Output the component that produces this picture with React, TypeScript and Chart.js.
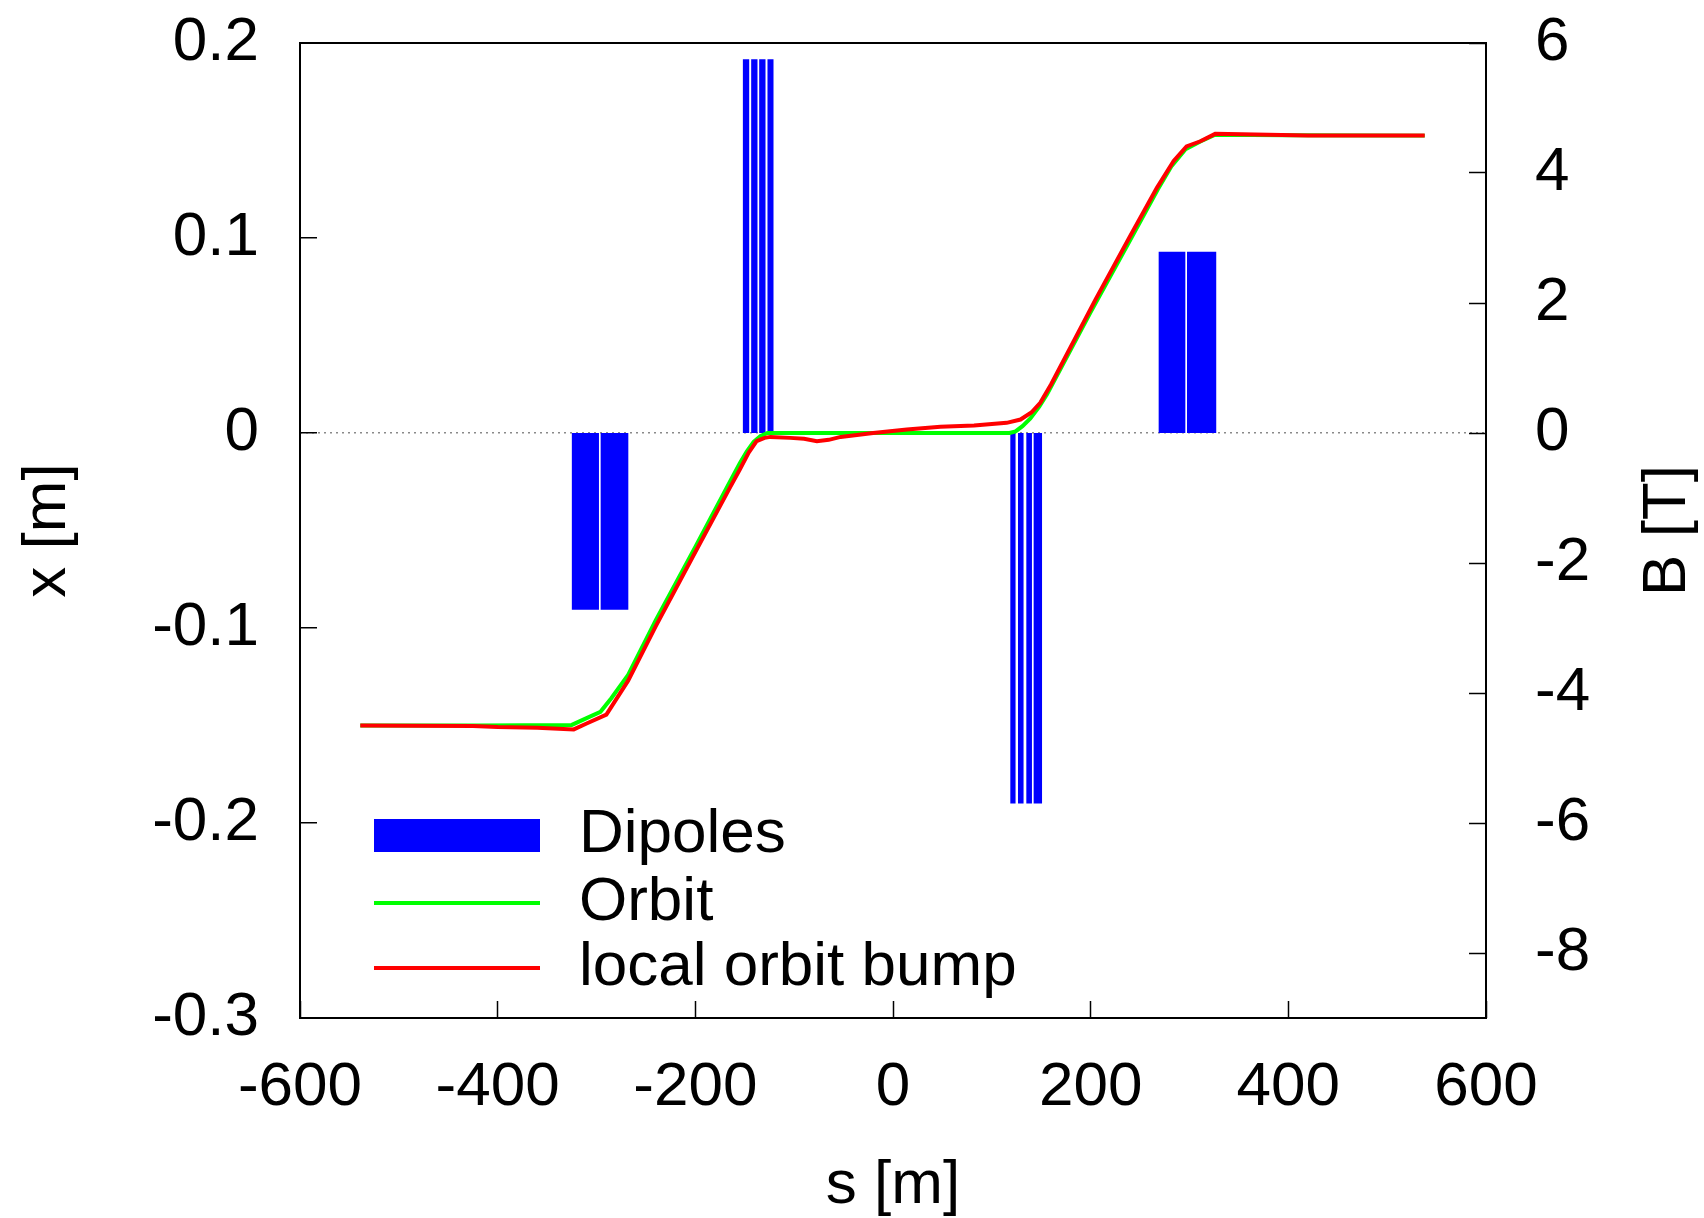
import React, { useEffect, useRef } from "react";
import { Chart, registerables } from "chart.js";

Chart.register(...registerables);

// ---- data ----
// Orbit (green): s [m], x [m]
const orbitS = [-539, -420, -325, -310, -296, -285, -268, -240, -200, -165, -155, -148, -141, -134, -127, -60, 0, 60, 118, 124, 131, 139, 148, 156, 200, 240, 268, 282, 296, 311, 326, 400, 538];
const orbitX = [-0.15, -0.15, -0.1497, -0.1462, -0.143, -0.136, -0.124, -0.096, -0.0585, -0.025, -0.0155, -0.0095, -0.0045, -0.0015, 0.0, 0.0, 0.0, 0.0, 0.0, 0.0008, 0.0035, 0.0075, 0.0135, 0.02, 0.062, 0.099, 0.125, 0.137, 0.1455, 0.1495, 0.153, 0.1527, 0.1525];

// Local orbit bump (red): s [m], x [m]
const bumpS = [-539, -425, -400, -360, -323, -310, -290, -268, -240, -200, -165, -155, -146, -138, -130, -124, -104, -90, -77, -65, -53, -20, 14, 48, 82, 115, 129, 140, 149, 160, 205, 240, 267, 284, 297, 311, 326, 380, 420, 538];
const bumpX = [-0.15, -0.1502, -0.1508, -0.1512, -0.152, -0.149, -0.1444, -0.127, -0.099, -0.061, -0.028, -0.0187, -0.01, -0.0042, -0.0025, -0.002, -0.0025, -0.003, -0.0042, -0.0035, -0.002, 0.0, 0.0018, 0.0032, 0.0038, 0.0052, 0.0069, 0.0105, 0.0155, 0.025, 0.0685, 0.101, 0.1257, 0.1395, 0.147, 0.1496, 0.1534, 0.153, 0.1526, 0.1526];

// Dipoles: start s, end s [m], field B [T]
const dipoleStart = [-325.2, -295.8, -151.9, -143.5, -135.4, -127.0, 118.7, 126.5, 134.9, 142.3, 268.8, 297.5];
const dipoleEnd = [-297.5, -267.8, -145.5, -137.1, -129.0, -120.9, 124.0, 132.1, 140.6, 150.8, 295.8, 327.3];
const dipoleField = [-2.72, -2.72, 5.75, 5.75, 5.75, 5.75, -5.7, -5.7, -5.7, -5.7, 2.79, 2.79];

// Axes
const xTitle = "s [m]";
const yTitle = "x [m]";
const y2Title = "B [T]";
const legendLabels = ["Dipoles", "Orbit", "local orbit bump"];

const FONT = '"Liberation Sans", Arial, Helvetica, sans-serif';
const FS = 62;

export default function App() {
  const ref = useRef<HTMLCanvasElement | null>(null);

  useEffect(() => {
    const canvas = ref.current;
    if (!canvas) return;

    const dipolePath: { x: number; y: number }[] = [];
    for (let i = 0; i < dipoleStart.length; i++) {
      dipolePath.push({ x: dipoleStart[i], y: 0 });
      dipolePath.push({ x: dipoleStart[i], y: dipoleField[i] });
      dipolePath.push({ x: dipoleEnd[i], y: dipoleField[i] });
      dipolePath.push({ x: dipoleEnd[i], y: 0 });
    }
    const orbit = orbitS.map((s, i) => ({ x: s, y: orbitX[i] }));
    const bump = bumpS.map((s, i) => ({ x: s, y: bumpX[i] }));

    const colors = ["#0000ff", "#00ff00", "#ff0000"];

    const framePlugin = {
      id: "frameAndLegend",
      afterDraw(chart: any) {
        const { ctx, chartArea } = chart;
        ctx.save();
        // frame
        ctx.strokeStyle = "#000";
        ctx.lineWidth = 2;
        ctx.strokeRect(chartArea.left, chartArea.top, chartArea.right - chartArea.left, chartArea.bottom - chartArea.top);

        // legend inside plot
        const sx0 = chartArea.left + 74;
        const sx1 = chartArea.left + 240;
        const tx = chartArea.left + 279;
        const rows = [chartArea.bottom - 183, chartArea.bottom - 115, chartArea.bottom - 50];
        ctx.fillStyle = colors[0];
        ctx.fillRect(sx0, rows[0] - 16, sx1 - sx0, 33);
        for (let k = 1; k < 3; k++) {
          ctx.strokeStyle = colors[k];
          ctx.lineWidth = 4;
          ctx.beginPath();
          ctx.moveTo(sx0, rows[k]);
          ctx.lineTo(sx1, rows[k]);
          ctx.stroke();
        }
        ctx.fillStyle = "#000";
        ctx.font = `${FS}px ${FONT}`;
        ctx.textAlign = "left";
        ctx.textBaseline = "middle";
        for (let k = 0; k < 3; k++) {
          ctx.fillText(legendLabels[k], tx, rows[k]);
        }

        // right axis title, reading upward
        ctx.translate(1668, (chartArea.top + chartArea.bottom) / 2);
        ctx.rotate(-Math.PI / 2);
        ctx.textAlign = "center";
        ctx.textBaseline = "middle";
        ctx.fillText(y2Title, 0, 0);
        ctx.restore();
      },
    };

    const tickFont = { family: FONT, size: FS };
    const noPad = (s: any) => {
      s.paddingTop = 0;
      s.paddingBottom = 0;
      s.paddingLeft = 0;
      s.paddingRight = 0;
    };

    const chart = new Chart(canvas, {
      type: "line",
      data: {
        datasets: [
          {
            label: legendLabels[2],
            data: bump,
            yAxisID: "y",
            borderColor: colors[2],
            borderWidth: 4,
            pointRadius: 0,
            tension: 0,
            fill: false,
            order: 0,
          },
          {
            label: legendLabels[1],
            data: orbit,
            yAxisID: "y",
            borderColor: colors[1],
            borderWidth: 4,
            pointRadius: 0,
            tension: 0,
            fill: false,
            order: 1,
          },
          {
            label: legendLabels[0],
            data: dipolePath,
            yAxisID: "yB",
            borderWidth: 0,
            borderColor: "rgba(0,0,0,0)",
            backgroundColor: colors[0],
            pointRadius: 0,
            tension: 0,
            fill: "origin",
            order: 2,
          },
        ],
      },
      options: {
        animation: false,
        responsive: false,
        devicePixelRatio: 1,
        layout: { padding: { top: 43, left: 0, right: 0, bottom: 0 } },
        plugins: {
          legend: { display: false },
          tooltip: { enabled: false },
        },
        scales: {
          x: {
            type: "linear",
            position: "bottom",
            min: -600,
            max: 600,
            afterFit: (s: any) => {
              s.height = 200;
              noPad(s);
            },
            ticks: {
              stepSize: 200,
              color: "#000",
              font: tickFont,
              padding: 50,
              maxRotation: 0,
              autoSkip: false,
            },
            grid: {
              drawOnChartArea: false,
              drawTicks: true,
              tickLength: -17,
              tickColor: "#000",
              tickWidth: 1.5,
            },
            border: { display: false },
            title: {
              display: true,
              text: xTitle,
              color: "#000",
              font: { family: FONT, size: FS },
              padding: { top: 0, bottom: -5 },
            },
          },
          y: {
            type: "linear",
            position: "left",
            min: -0.3,
            max: 0.2,
            afterFit: (s: any) => {
              s.width = 300;
              noPad(s);
            },
            ticks: {
              stepSize: 0.1,
              color: "#000",
              font: tickFont,
              padding: 58,
              callback: (v: any) => {
                const n = Math.round(Number(v) * 10) / 10;
                return n === 0 ? "0" : String(n);
              },
            },
            grid: {
              color: (c: any) => (c.tick && Math.abs(c.tick.value) < 1e-9 ? "#8a8a8a" : "rgba(0,0,0,0)"),
              lineWidth: 1.5,
              drawTicks: true,
              tickLength: -17,
              tickColor: "#000",
              tickWidth: 1.5,
            },
            border: { display: false, dash: [2, 4] },
            title: {
              display: true,
              text: yTitle,
              color: "#000",
              font: { family: FONT, size: FS },
              padding: { top: 11, bottom: 0 },
            },
          },
          yB: {
            type: "linear",
            position: "right",
            min: -9,
            max: 6,
            afterFit: (s: any) => {
              s.width = 218;
              noPad(s);
            },
            ticks: {
              stepSize: 2,
              includeBounds: false,
              color: "#000",
              font: tickFont,
              padding: 66,
              callback: (v: any) => String(Math.round(Number(v))),
            },
            grid: {
              drawOnChartArea: false,
              drawTicks: true,
              tickLength: -17,
              tickColor: "#000",
              tickWidth: 1.5,
            },
            border: { display: false },
            title: { display: false },
          },
        },
      } as any,
      plugins: [framePlugin],
    });

    return () => {
      chart.destroy();
    };
  }, []);

  return (
    <div style={{ position: "absolute", left: 0, top: 0, width: 1704, height: 1218, background: "#fff" }}>
      <canvas ref={ref} width={1704} height={1218} style={{ display: "block", width: 1704, height: 1218 }} />
    </div>
  );
}
